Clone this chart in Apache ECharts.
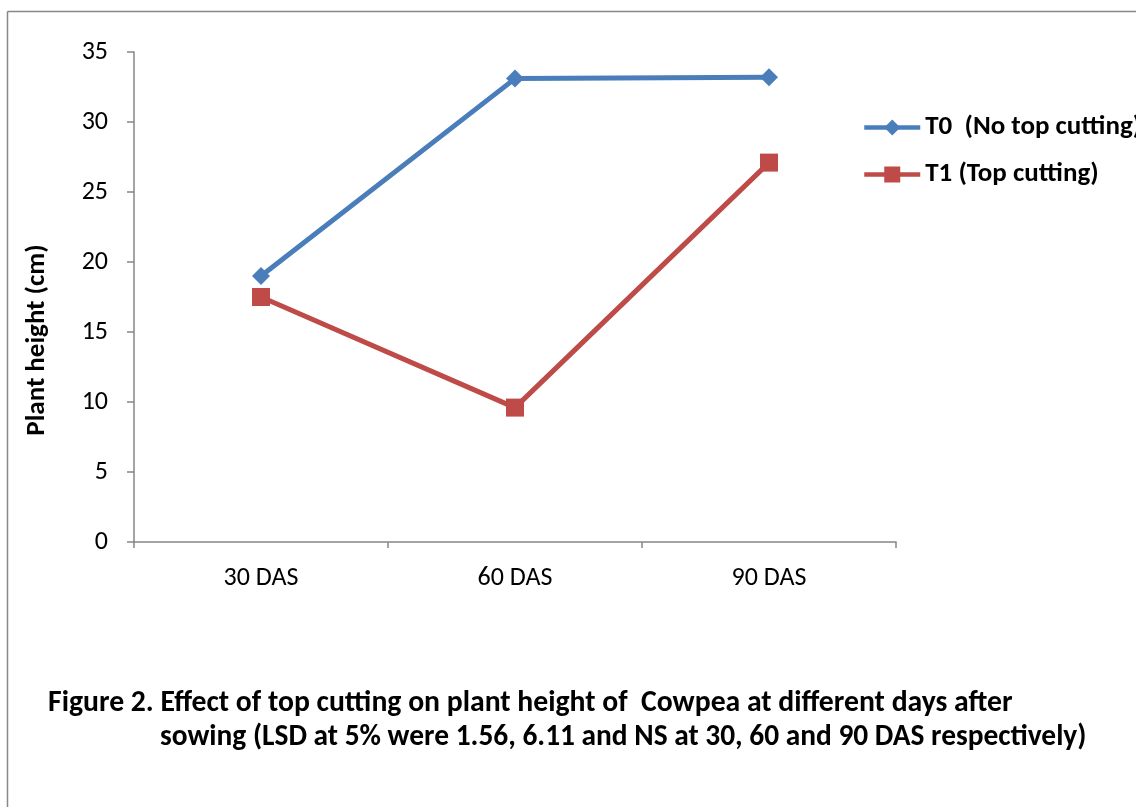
<!DOCTYPE html>
<html>
<head>
<meta charset="utf-8">
<script src="https://cdn.jsdelivr.net/npm/echarts@6/dist/echarts.min.js"></script>
<style>
  html, body { margin: 0; padding: 0; background: #fff; }
  #chart { width: 1136px; height: 807px; }
</style>
</head>
<body>
<div id="chart"></div>
<script>
// Plant height of cowpea with and without top cutting
const categories = ['30 DAS', '60 DAS', '90 DAS'];
const t0Name = 'T0  (No top cutting)';
const t1Name = 'T1 (Top cutting)';
const t0Values = [19.0, 33.1, 33.2];
const t1Values = [17.5, 9.6, 27.1];
const yTicks = { min: 0, max: 35, interval: 5 };
const captionLine1 = 'Figure 2. Effect of top cutting on plant height of  Cowpea at different days after';
const captionLine2 = 'sowing (LSD at 5% were 1.56, 6.11 and NS at 30, 60 and 90 DAS respectively)';

const FONT = 'Carlito, "Open Sans", "Noto Sans", sans-serif';
const axisGray = '#868686';

const chart = echarts.init(document.getElementById('chart'), null, { renderer: 'canvas' });
chart.setOption({
  animation: false,
  backgroundColor: '#fff',
  grid: { left: 134, top: 52, right: 240, bottom: 265, containLabel: false },
  xAxis: {
    type: 'category',
    data: categories,
    boundaryGap: true,
    axisLine: { lineStyle: { color: axisGray, width: 1.5 } },
    axisTick: { show: true, length: 6, inside: false, lineStyle: { color: axisGray, width: 1.5 } },
    axisLabel: { color: '#000', fontFamily: FONT, fontSize: 26, margin: 23 },
    splitLine: { show: false }
  },
  yAxis: {
    type: 'value',
    min: yTicks.min, max: yTicks.max, interval: yTicks.interval,
    axisLine: { show: true, lineStyle: { color: axisGray, width: 1.5 } },
    axisTick: { show: true, length: 7, lineStyle: { color: axisGray, width: 1.5 } },
    axisLabel: { color: '#000', fontFamily: FONT, fontSize: 26, margin: 26 },
    splitLine: { show: false }
  },
  legend: {
    orient: 'vertical',
    left: 862, top: 114, padding: 0,
    itemWidth: 56, itemHeight: 20, itemGap: 20,
    lineStyle: { width: 4.5 },
    textStyle: { color: '#000', fontFamily: FONT, fontSize: 27, fontWeight: 'bold' },
    data: [t0Name, t1Name]
  },
  series: [
    {
      name: t0Name, type: 'line', data: t0Values,
      symbol: 'diamond', symbolSize: 18,
      lineStyle: { color: '#4a7ebb', width: 5 },
      itemStyle: { color: '#4a7ebb' }
    },
    {
      name: t1Name, type: 'line', data: t1Values,
      symbol: 'rect', symbolSize: 18,
      lineStyle: { color: '#be4b48', width: 5 },
      itemStyle: { color: '#be4b48' }
    }
  ],
  graphic: [
    // frame around the figure
    { type: 'line', shape: { x1: 7.5, y1: 11.5, x2: 1136, y2: 11.5 }, style: { stroke: '#878787', lineWidth: 1.5 } },
    { type: 'line', shape: { x1: 7.5, y1: 11.5, x2: 7.5, y2: 807 }, style: { stroke: '#878787', lineWidth: 1.5 } },
    // y-axis title
    {
      type: 'text', x: 37, y: 340, rotation: Math.PI / 2,
      style: { text: 'Plant height (cm)', fill: '#000', font: 'bold 27px ' + FONT, align: 'center', verticalAlign: 'middle' }
    },
    // caption
    {
      type: 'text', x: 48, y: 704,
      style: { text: captionLine1, fill: '#000', font: 'bold 29.7px ' + FONT, align: 'left', verticalAlign: 'middle' }
    },
    {
      type: 'text', x: 160, y: 738,
      style: { text: captionLine2, fill: '#000', font: 'bold 29.4px ' + FONT, align: 'left', verticalAlign: 'middle' }
    }
  ]
});
</script>
</body>
</html>
